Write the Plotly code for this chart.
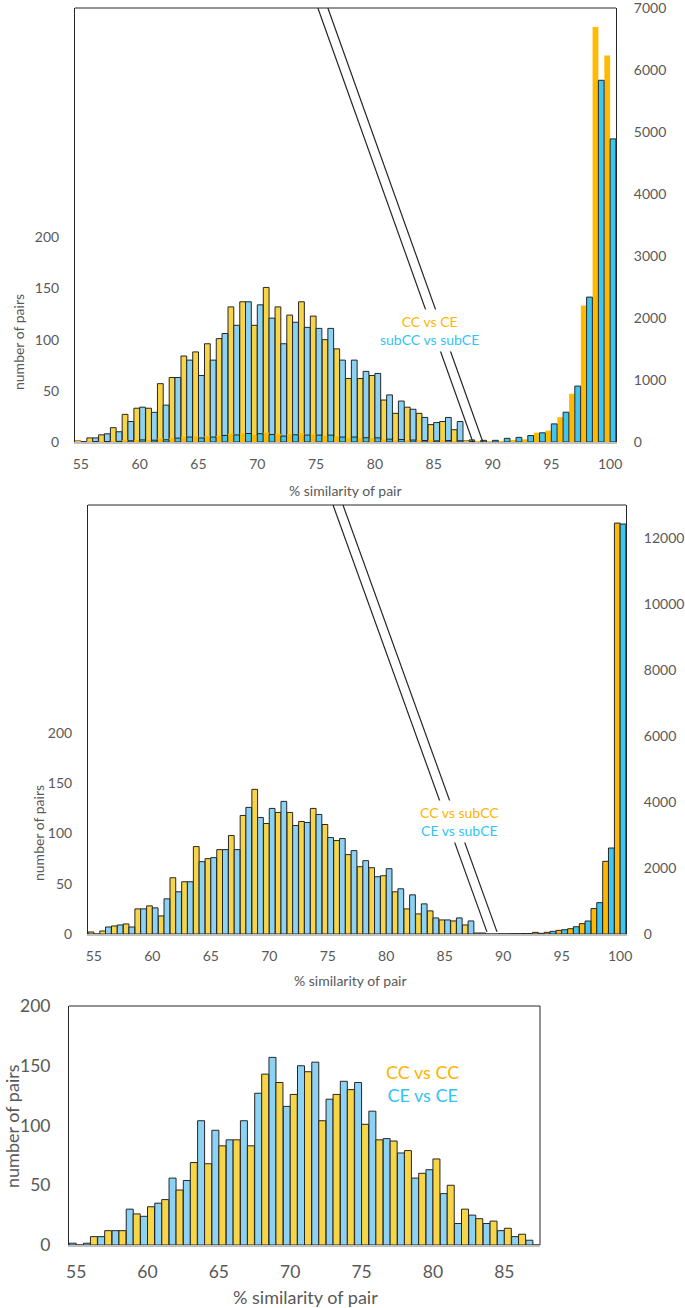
import plotly.graph_objects as go

# ---------------- data ----------------
# Panel 1: CC vs CE (A) and subCC vs subCE (B)
p1_low_x = list(range(55, 89))
p1_low_A = [1, 4, 7, 14, 27, 33, 33, 57, 63, 84, 88, 96, 101, 132, 137,
            114, 151, 132, 124, 137, 123, 100, 91, 62, 62, 65, 41, 28, 34,
            28, 17, 20, 12, 1]
p1_low_B = [0, 4, 8, 10, 20, 34, 29, 36, 63, 80, 65, 80, 106, 114, 137,
            134, 121, 96, 117, 112, 111, 111, 80, 80, 69, 67, 46, 40, 32,
            24, 19, 24, 20, 2]
p1_high_x = list(range(89, 101))
p1_high_A = [8, 5, 16, 32, 43, 150, 185, 400, 779, 2202, 6694, 6232]
p1_high_B = [27, 27, 59, 75, 104, 148, 292, 481, 902, 2337, 5834, 4889]

# Panel 2: CC vs subCC (A) and CE vs subCE (B)
p2_low_x = list(range(55, 89))
p2_low_A = [2, 3, 8, 10, 25, 28, 18, 56, 52, 87, 75, 84, 98, 118, 144,
            110, 121, 121, 112, 125, 109, 93, 79, 67, 66, 58, 42, 25, 20,
            23, 14, 13, 9, 1]
p2_low_B = [0, 7, 9, 7, 25, 26, 35, 42, 52, 72, 76, 84, 84, 126, 116,
            125, 132, 108, 111, 119, 96, 95, 83, 73, 57, 65, 45, 39, 30,
            16, 14, 16, 13, 1]
p2_high_x = list(range(89, 101))
p2_high_A = [0, 5, 10, 15, 50, 50, 110, 160, 313, 770, 2202, 12453]
p2_high_B = [0, 5, 10, 15, 20, 80, 130, 220, 394, 950, 2606, 12423]

# Panel 3: CC vs CC (A) and CE vs CE (B)
p3_x = list(range(55, 88))
p3_A = [0, 7, 12, 12, 26, 32, 38, 46, 69, 68, 83, 88, 83, 143, 136, 126,
        145, 104, 126, 130, 101, 88, 87, 79, 60, 72, 50, 30, 22, 20, 14, 9, 0]
p3_B = [1.5, 1.5, 7, 12, 30, 24, 35, 56, 54, 104, 96, 88, 104, 127, 157,
        116, 150, 153, 122, 137, 136, 112, 89, 77, 56, 63, 43, 18, 25, 18,
        12, 7, 4]

x_ticks_main = [55, 60, 65, 70, 75, 80, 85, 90, 95, 100]
x_ticks_p3 = [55, 60, 65, 70, 75, 80, 85]
y_ticks_left = [0, 50, 100, 150, 200]
y_ticks_p1_right = [0, 1000, 2000, 3000, 4000, 5000, 6000, 7000]
y_ticks_p2_right = [0, 2000, 4000, 6000, 8000, 10000, 12000]

label_p1 = ["CC vs CE", "subCC vs subCE"]
label_p2 = ["CC vs subCC", "CE vs subCE"]
label_p3 = ["CC vs CC", "CE vs CE"]
x_title = "% similarity of pair"
y_title = "number of pairs"

# ---------------- styles ----------------
YEL = "#F8D547"
LBLUE = "#8CD2F4"
ORANGE = "#FFBA00"
BBLUE = "#3FC6F0"
TXT_OR = "#FFB400"
TXT_BL = "#33C3F5"
OUTL = "#262626"
GRAY = "#595959"
FONT = "Lato"
W = 0.49

H = 1308.0
WID = 685.0


def py(px):
    return (H - px) / H


def pxx(px):
    return px / WID


fig = go.Figure()


def bar(x, y, color, yaxis, xaxis, left, outline=True):
    fig.add_trace(go.Bar(
        x=x, y=y, xaxis=xaxis, yaxis=yaxis,
        width=W, offset=(-W if left else 0.0),
        marker=dict(color=color,
                    line=dict(color=OUTL, width=1 if outline else 0)),
        showlegend=False, hoverinfo="x+y"))


# panel 1
bar(p1_low_x, p1_low_A, YEL, "y", "x", True)
bar(p1_low_x, p1_low_B, LBLUE, "y", "x", False)
bar(p1_low_x + p1_high_x, p1_low_A + p1_high_A, ORANGE, "y2", "x", True, outline=False)
bar(p1_low_x + p1_high_x, p1_low_B + p1_high_B, BBLUE, "y2", "x", False)

# panel 2
bar(p2_low_x, p2_low_A, YEL, "y3", "x2", True)
bar(p2_low_x, p2_low_B, LBLUE, "y3", "x2", False)
bar(p2_high_x, p2_high_A, ORANGE, "y4", "x2", True)
bar(p2_high_x, p2_high_B, BBLUE, "y4", "x2", False)

# panel 3 (blue left, yellow right)
bar(p3_x, p3_B, LBLUE, "y5", "x3", True)
bar(p3_x, p3_A, YEL, "y5", "x3", False)

tick_font = dict(family=FONT, size=14, color=GRAY)
tick_font3 = dict(family=FONT, size=17.5, color=GRAY)

xcommon = dict(showgrid=False, zeroline=False, ticks="", showline=True,
               linecolor="#BFBFBF", linewidth=1.5, fixedrange=True,
               automargin=False, ticklabeloverflow="allow")
ycommon = dict(showgrid=False, zeroline=False, ticks="", showline=True,
               linecolor=OUTL, linewidth=1, fixedrange=True,
               automargin=False, tickformat="d", ticklabeloverflow="allow")

d1y = [py(442), py(8)]
d2y = [py(934), py(505)]
d3y = [py(1245), py(1006)]

fig.update_layout(
    width=685, height=1308, autosize=False,
    margin=dict(l=0, r=0, t=0, b=0, pad=0, autoexpand=False),
    paper_bgcolor="white", plot_bgcolor="white",
    barmode="overlay",
    font=dict(family=FONT, color=GRAY),
    xaxis=dict(**xcommon, domain=[pxx(75), pxx(616)], anchor="y",
               range=[54.5, 100.5], tickvals=x_ticks_main,
               tickfont=tick_font, ticklabelstandoff=8),
    yaxis=dict(**ycommon, domain=d1y, anchor="x", range=[0, 424],
               tickvals=y_ticks_left, tickfont=tick_font, ticklabelstandoff=12),
    yaxis2=dict(**ycommon, overlaying="y", side="right", anchor="x",
                range=[0, 7000], tickvals=y_ticks_p1_right,
                tickfont=tick_font, ticklabelstandoff=14),
    xaxis2=dict(**xcommon, domain=[pxx(88), pxx(626)], anchor="y3",
                range=[54.5, 100.5], tickvals=x_ticks_main,
                tickfont=tick_font, ticklabelstandoff=8),
    yaxis3=dict(**ycommon, domain=d2y, anchor="x2", range=[0, 427],
                tickvals=y_ticks_left, tickfont=tick_font, ticklabelstandoff=12),
    yaxis4=dict(**ycommon, overlaying="y3", side="right", anchor="x2",
                range=[0, 13000], tickvals=y_ticks_p2_right,
                tickfont=tick_font, ticklabelstandoff=14),
    xaxis3=dict(**xcommon, domain=[pxx(69), pxx(540)], anchor="y5",
                range=[54.5, 87.5], tickvals=x_ticks_p3,
                tickfont=tick_font3, ticklabelstandoff=10),
    yaxis5=dict(**ycommon, domain=d3y, anchor="x3", range=[0, 200],
                tickvals=y_ticks_left, tickfont=tick_font3, ticklabelstandoff=14),
)

shapes = []
# top frame lines
for xr, yr in (("x", "y"), ("x2", "y3"), ("x3", "y5")):
    shapes.append(dict(type="line", xref=f"{xr} domain", yref=f"{yr} domain",
                       x0=0, x1=1, y0=1, y1=1, line=dict(color=OUTL, width=1)))
# panel 3 right frame
shapes.append(dict(type="line", xref="x3 domain", yref="y5 domain",
                   x0=1, x1=1, y0=0, y1=1, line=dict(color=OUTL, width=1)))
# axis-break diagonal lines
for x0, x1 in ((75.15, 88.33), (76.0, 89.18)):
    shapes.append(dict(type="line", xref="x", yref="y domain", x0=x0, x1=x1,
                       y0=1, y1=0.0, line=dict(color=OUTL, width=1.2)))
for x0, x1 in ((75.45, 88.61), (76.30, 89.47)):
    shapes.append(dict(type="line", xref="x2", yref="y3 domain", x0=x0, x1=x1,
                       y0=1, y1=0.005, line=dict(color=OUTL, width=1.2)))
fig.update_layout(shapes=shapes)

ann = []


def two_label(labels, x, xref, y, yref, size, bg):
    txt = (f'<span style="color:{TXT_OR}">{labels[0]}</span><br>'
           f'<span style="color:{TXT_BL}">{labels[1]}</span>')
    ann.append(dict(text=txt, x=x, xref=xref, y=y, yref=yref, showarrow=False,
                    font=dict(family=FONT, size=size), align="center",
                    bgcolor=bg, borderpad=3, xanchor="center", yanchor="middle"))


two_label(label_p1, 84.68, "x", 0.258, "y domain", 14, "white")
two_label(label_p2, 86.3, "x2", 0.263, "y3 domain", 14, "white")
two_label(label_p3, 79.3, "x3", 0.674, "y5 domain", 18, "rgba(0,0,0,0)")

for (xp, yp, s) in ((345, 490, 14), (350, 980, 14), (305, 1297, 18)):
    ann.append(dict(text=x_title, x=pxx(xp), y=py(yp), xref="paper", yref="paper",
                    showarrow=False, font=dict(family=FONT, size=s, color=GRAY),
                    xanchor="center", yanchor="middle"))
for (xp, yp, s) in ((18, 342, 14), (38, 833, 14), (12, 1126, 18)):
    ann.append(dict(text=y_title, x=pxx(xp), y=py(yp), xref="paper", yref="paper",
                    showarrow=False, textangle=-90,
                    font=dict(family=FONT, size=s, color=GRAY),
                    xanchor="center", yanchor="middle"))
fig.update_layout(annotations=ann)

fig.write_html(
    "out.html",
    config={"displayModeBar": False, "staticPlot": False},
    post_script="document.body.style.margin='0';document.body.style.padding='0';",
)
